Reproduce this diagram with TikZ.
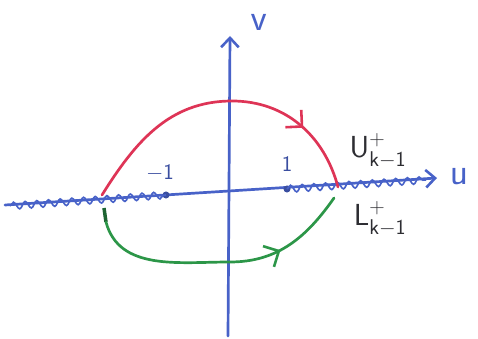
\documentclass[tikz,border=0pt]{standalone}
\usepackage{fix-cm}
\usepackage{amsmath,amssymb}
\usetikzlibrary{arrows.meta,positioning,decorations.pathmorphing,decorations.markings}
\definecolor{pblue}{RGB}{72,98,200}
\definecolor{pred}{RGB}{222,52,86}
\definecolor{pgreen}{RGB}{44,150,72}
\definecolor{pdgreen}{RGB}{30,100,50}
\definecolor{pink}{RGB}{45,45,50}
\tikzset{
  axis/.style={draw=pblue,line width=2.3pt,line cap=round,-{Straight Barb[length=8pt,width=15pt,line width=2.2pt]}},
  cut/.style={draw=pblue,line width=1.4pt,decorate,decoration={snake,amplitude=3pt,segment length=10pt}},
  pt/.style={circle,fill=pblue!80!black,inner sep=0pt,minimum size=6pt},
  redarc/.style={draw=pred,line width=2.3pt,line cap=round,
    postaction={decorate},decoration={markings,mark=at position 0.78 with {\arrow{Straight Barb[length=10pt,width=20pt,line width=2.2pt]}}}},
  greenarc/.style={draw=pgreen,line width=2.3pt,line cap=round,
    postaction={decorate},decoration={markings,mark=at position 0.72 with {\arrow{Straight Barb[length=10pt,width=20pt,line width=2.2pt]}}}},
  axlbl/.style={text=pblue,font=\fontsize{32}{34}\selectfont},
  crvlbl/.style={text=pink,font=\fontsize{26}{28}\selectfont},
  numlbl/.style={text=pblue!80!black,font=\fontsize{19}{21}\selectfont},
}

\begin{document}
\begin{tikzpicture}[x=0.03cm,y=0.03cm]
  \useasboundingbox (0,0) rectangle (478,339);
  % axes
  \coordinate (uL) at (5,134);
  \coordinate (uR) at (437,161);
  \coordinate (vB) at (228,3);
  \coordinate (vT) at (230,303);
  \draw[axis] (uL) -- (uR);
  \draw[axis] (vB) -- (vT);
  \node[axlbl] (ulbl) at (459,163) {$\mathsf{u}$};
  \node[axlbl] (vlbl) at (259,317) {$\mathsf{v}$};
  % branch points and cuts
  \node[pt] (m1) at (166,144) {};
  \node[pt] (p1) at (287,150) {};
  \coordinate (cL) at (10,133);
  \coordinate (cR) at (426,159);
  \draw[cut] (cL) -- (m1.center);
  \draw[cut] (p1.center) -- (cR);
  \node[numlbl] (m1lbl) at (160,166) {$-\mathsf{1}$};
  \node[numlbl] (p1lbl) at (287,175) {$\mathsf{1}$};
  % contours
  \coordinate (rA) at (102,144);
  \coordinate (rT) at (232,238);
  \coordinate (rB) at (338,152);
  \draw[redarc] (rA) to[out=58,in=180] (rT) to[out=0,in=105] (rB);
  \coordinate (gA) at (104,131);
  \coordinate (gS) at (106,117);
  \coordinate (gT) at (230,77);
  \coordinate (gB) at (334,141);
  \draw[pdgreen,line width=3pt] (gA) -- (gS);
  \draw[greenarc] (gS) to[out=-75,in=180] (gT) to[out=0,in=-125] (gB);
  \node[crvlbl] (ulab) at (378,188) {$\mathsf{U}^{+}_{\mathsf{k}-\mathsf{1}}$};
  \node[crvlbl] (llab) at (380,120) {$\mathsf{L}^{+}_{\mathsf{k}-\mathsf{1}}$};
\end{tikzpicture}
\end{document}
